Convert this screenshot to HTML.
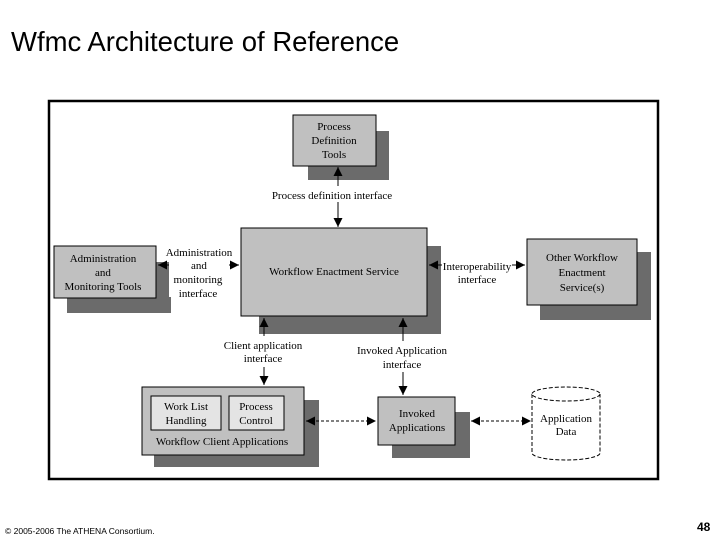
<!DOCTYPE html>
<html><head><meta charset="utf-8"><style>
html,body{margin:0;padding:0;background:#fff;width:720px;height:540px;overflow:hidden}
svg{display:block}
</style></head><body>
<svg width="720" height="540" viewBox="0 0 720 540" xmlns="http://www.w3.org/2000/svg">
<defs>
<marker id="a" viewBox="0 0 10 10" refX="10" refY="5" markerWidth="9" markerHeight="9" orient="auto-start-reverse"><path d="M0,0 L10,5 L0,10 z" fill="#000"/></marker>
</defs>
<text x="11" y="51" font-family="Liberation Sans, sans-serif" font-size="27.5" fill="#000">Wfmc Architecture of Reference</text>
<rect x="49" y="101" width="609" height="378" fill="#fff" stroke="#000" stroke-width="2.5"/>
<g font-family="Liberation Serif, serif" font-size="11" fill="#000" text-anchor="middle">
<rect x="308" y="131" width="81" height="49" fill="#6b6b6b"/>
<rect x="293" y="115" width="83" height="51" fill="#c0c0c0" stroke="#000"/>
<text x="334" y="130">Process</text><text x="334" y="144">Definition</text><text x="334" y="158">Tools</text>
<rect x="67" y="262" width="104" height="51" fill="#6b6b6b"/>
<rect x="54" y="246" width="102" height="52" fill="#c0c0c0" stroke="#000"/>
<text x="103" y="262">Administration</text><text x="103" y="276">and</text><text x="103" y="290">Monitoring Tools</text>
<rect x="259" y="276" width="182" height="58" fill="#6b6b6b"/>
<rect x="426" y="246" width="15" height="88" fill="#6b6b6b"/>
<rect x="241" y="228" width="186" height="88" fill="#c0c0c0" stroke="#000"/>
<text x="334" y="275">Workflow Enactment Service</text>
<rect x="540" y="252" width="111" height="68" fill="#6b6b6b"/>
<rect x="527" y="239" width="110" height="66" fill="#c0c0c0" stroke="#000"/>
<text x="582" y="261">Other Workflow</text><text x="582" y="276">Enactment</text><text x="582" y="291">Service(s)</text>
<rect x="154" y="400" width="165" height="67" fill="#6b6b6b"/>
<rect x="142" y="387" width="162" height="68" fill="#c0c0c0" stroke="#000"/>
<rect x="151" y="396" width="70" height="34" fill="#e4e4e4" stroke="#000"/>
<rect x="229" y="396" width="55" height="34" fill="#e4e4e4" stroke="#000"/>
<text x="186" y="410">Work List</text><text x="186" y="424">Handling</text>
<text x="256" y="410">Process</text><text x="256" y="424">Control</text>
<text x="222" y="445">Workflow Client Applications</text>
<rect x="392" y="412" width="78" height="46" fill="#6b6b6b"/>
<rect x="378" y="397" width="77" height="48" fill="#c0c0c0" stroke="#000"/>
<text x="417" y="417">Invoked</text><text x="417" y="431">Applications</text>
<path d="M532,394 L532,453 A34,7 0 0 0 600,453 L600,394" fill="#fff" stroke="#000" stroke-dasharray="4,2"/>
<ellipse cx="566" cy="394" rx="34" ry="7" fill="#fff" stroke="#000" stroke-dasharray="4,2"/>
<text x="566" y="422">Application</text><text x="566" y="435">Data</text>
<line x1="338" y1="167" x2="338" y2="186" stroke="#000" marker-start="url(#a)"/>
<line x1="338" y1="202" x2="338" y2="227" stroke="#000" marker-end="url(#a)"/>
<text x="332" y="199">Process definition interface</text>
<line x1="158" y1="265" x2="239" y2="265" stroke="#000" marker-start="url(#a)" marker-end="url(#a)"/>
<rect x="169" y="245" width="60" height="52" fill="#fff"/>
<text x="199" y="256">Administration</text><text x="199" y="269">and</text><text x="198" y="283">monitoring</text><text x="198" y="297">interface</text>
<line x1="429" y1="265" x2="525" y2="265" stroke="#000" marker-start="url(#a)" marker-end="url(#a)"/>
<rect x="442" y="259" width="70" height="26" fill="#fff"/>
<text x="477" y="270">Interoperability</text><text x="477" y="283">interface</text>
<line x1="264" y1="318" x2="264" y2="336" stroke="#000" marker-start="url(#a)"/>
<line x1="264" y1="367" x2="264" y2="385" stroke="#000" marker-end="url(#a)"/>
<text x="263" y="349">Client application</text><text x="263" y="362">interface</text>
<line x1="403" y1="318" x2="403" y2="341" stroke="#000" marker-start="url(#a)"/>
<line x1="403" y1="372" x2="403" y2="395" stroke="#000" marker-end="url(#a)"/>
<text x="402" y="354">Invoked Application</text><text x="402" y="368">interface</text>
<line x1="306" y1="421" x2="376" y2="421" stroke="#000" stroke-dasharray="3,2" marker-start="url(#a)" marker-end="url(#a)"/>
<line x1="471" y1="421" x2="531" y2="421" stroke="#000" stroke-dasharray="3,2" marker-start="url(#a)" marker-end="url(#a)"/>
</g>
<text x="5" y="534" font-family="Liberation Sans, sans-serif" font-size="8.5" fill="#000">© 2005-2006 The ATHENA Consortium.</text>
<text x="697" y="531" font-family="Liberation Sans, sans-serif" font-size="12" font-weight="bold" fill="#000">48</text>
</svg>
</body></html>
